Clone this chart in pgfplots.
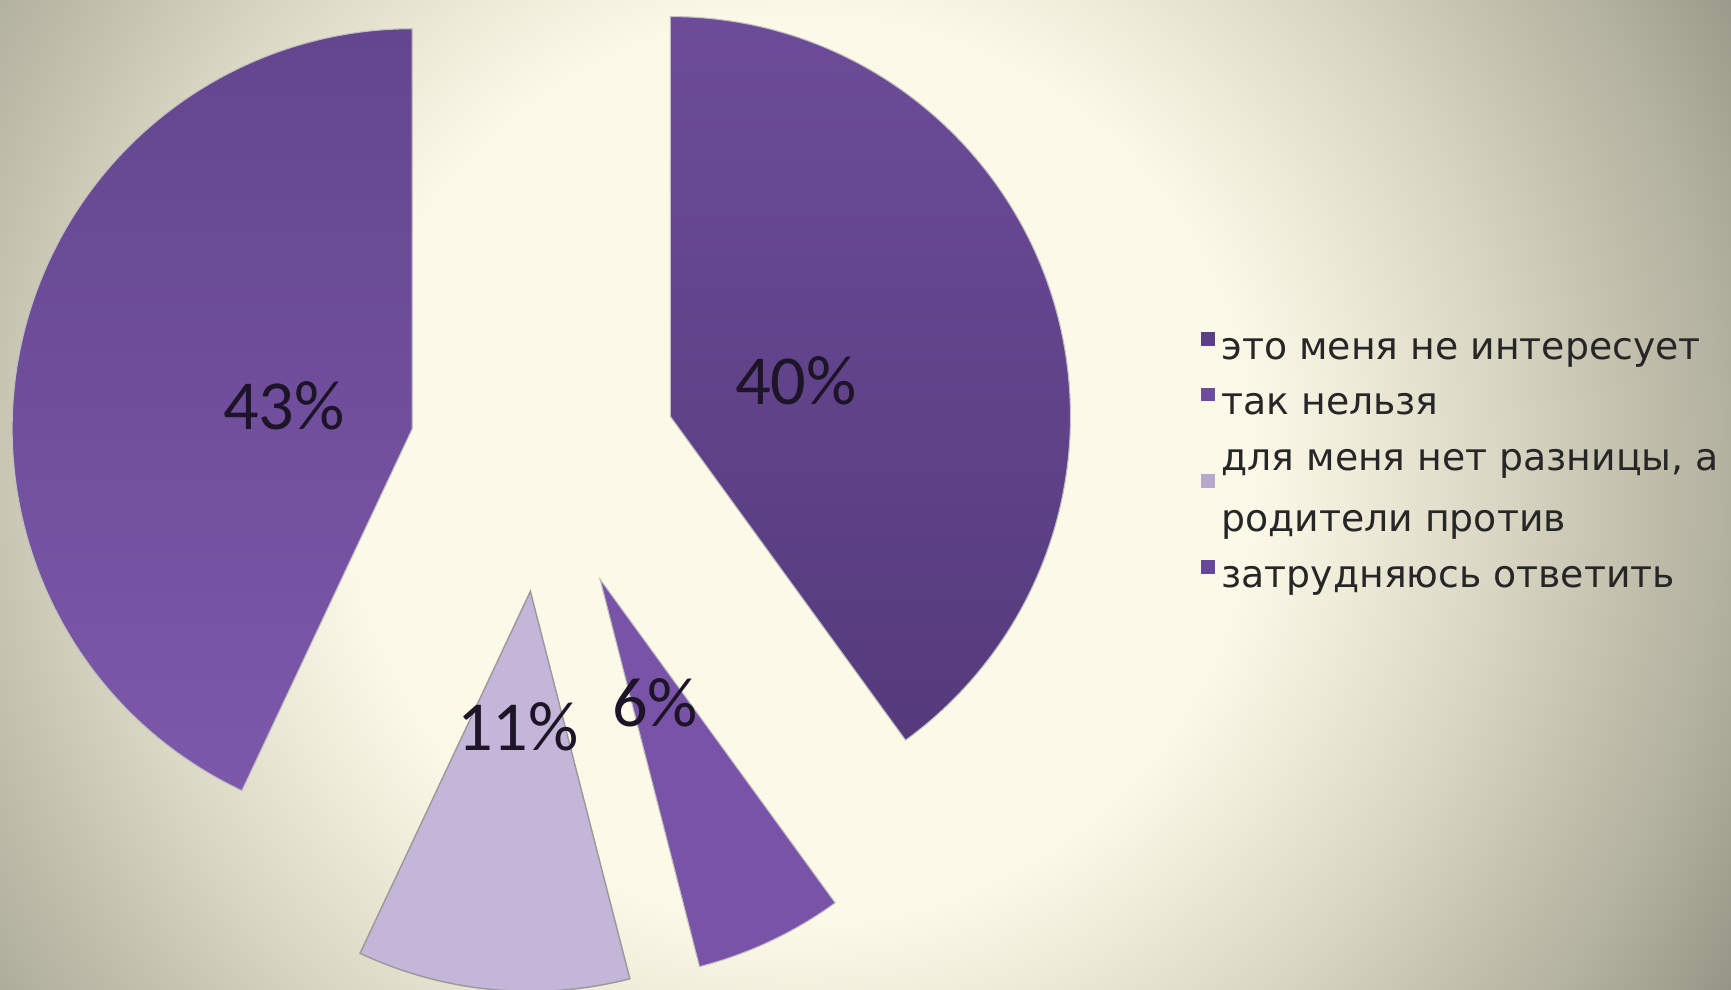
\documentclass[border=0pt]{standalone}
\usepackage{pgfplots}
\pgfplotsset{compat=1.18}
\usepackage{fontspec}
\setmainfont{DejaVu Sans}
\newfontfamily\pctfont{Carlito}

% background, radius in mm (1 data unit = 0.1 mm)
\definecolor{bgA}{HTML}{FCF9E8}
\definecolor{bgB}{HTML}{EFECDA}
\definecolor{bgC}{HTML}{D9D6C3}
\definecolor{bgD}{HTML}{C8C5B2}
\definecolor{bgE}{HTML}{B4B2A0}
\definecolor{bgF}{HTML}{9C9A8A}
\definecolor{bgG}{HTML}{8A887A}
\definecolor{bgH}{HTML}{838173}
\pgfdeclareradialshading{bgshade}{\pgfpoint{0mm}{0mm}}{color(0mm)=(bgA); color(45mm)=(bgA); color(55mm)=(bgB); color(70mm)=(bgC); color(80mm)=(bgD); color(92mm)=(bgE); color(104mm)=(bgF); color(112mm)=(bgG); color(130mm)=(bgH)}

% slices
\definecolor{slA1}{HTML}{6C4C98}
\definecolor{slA2}{HTML}{553A7C}
\definecolor{slB}{HTML}{7853A7}
\definecolor{slC}{HTML}{C4B6D8}
\definecolor{slD1}{HTML}{63468E}
\definecolor{slD2}{HTML}{7C58AA}
\definecolor{legA}{HTML}{5B3F87}
\definecolor{legB}{HTML}{6C4C9C}
\definecolor{legC}{HTML}{B7A9CC}
\definecolor{legD}{HTML}{66489A}
\definecolor{txt}{HTML}{1E1428}
\definecolor{legtxt}{HTML}{262626}

\tikzset{
  sliceA/.style={top color=slA1, bottom color=slA2, draw=black!25, line width=0.3pt},
  sliceB/.style={fill=slB, draw=black!25, line width=0.3pt},
  sliceC/.style={fill=slC, draw=gray!80, line width=0.4pt},
  sliceD/.style={top color=slD1, bottom color=slD2, draw=black!25, line width=0.3pt},
  pct/.style={font=\pctfont\fontsize{20}{24}\selectfont, text=txt},
}

% share (%) / style, clockwise from 12 o'clock
\def\piedata{40/sliceA, 6/sliceB, 11/sliceC, 43/sliceD}
\def\pieX{543}\def\pieY{532}\def\pieExp{134}

\def\ls{\rule[-4pt]{0pt}{15pt}}

\begin{document}
\begin{tikzpicture}
\begin{axis}[
  scale only axis, width=173.1mm, height=99mm,
  xmin=0, xmax=1731, ymin=0, ymax=990,
  hide axis,
  legend cell align=left,
  legend image code/.code={\fill[#1] (-0.8pt,-0.7pt) rectangle (2.6pt,2.7pt);},
  legend style={at={(0.6935,0.677)}, anchor=north west, draw=none, fill=none,
    inner sep=0pt, row sep=3.4pt,
    font=\fontsize{10.75}{17.2}\selectfont,
    nodes={inner xsep=2pt, inner ysep=0pt, align=left, text=legtxt}},
]
\begin{scope}
  \clip (axis cs:0,0) rectangle (axis cs:1731,990);
  \node[overlay, inner sep=0pt] at (axis cs:800,520) {\pgfuseshading{bgshade}};
\end{scope}

\xdef\pieang{90}
\foreach \v/\sty in \piedata {
  \pgfmathsetmacro\aS{\pieang}
  \pgfmathsetmacro\aE{\pieang-3.6*\v}
  \pgfmathsetmacro\aM{(\aS+\aE)/2}
  \pgfmathsetmacro\px{\pieX+\pieExp*cos(\aM)}
  \pgfmathsetmacro\py{\pieY+\pieExp*sin(\aM)}
  \edef\temp{\noexpand\path[\sty] (axis cs:\px,\py) -- ++(\aS:40mm)
    arc[start angle=\aS, end angle=\aE, radius=40mm] -- cycle;}
  \temp
  \xdef\pieang{\aE}
}

\node[pct] at (axis cs:796,609) {40\%};
\node[pct] at (axis cs:655,287) {6\%};
\node[pct] at (axis cs:518,263) {11\%};
\node[pct] at (axis cs:284,584) {43\%};

\addlegendimage{legA}\addlegendentry{\ls это меня не интересует}
\addlegendimage{legB}\addlegendentry{\ls так нельзя}
\addlegendimage{legC}\addlegendentry{\ls для меня нет разницы, а\\\ls родители против}
\addlegendimage{legD}\addlegendentry{\ls затрудняюсь ответить}
\end{axis}
\end{tikzpicture}
\end{document}
